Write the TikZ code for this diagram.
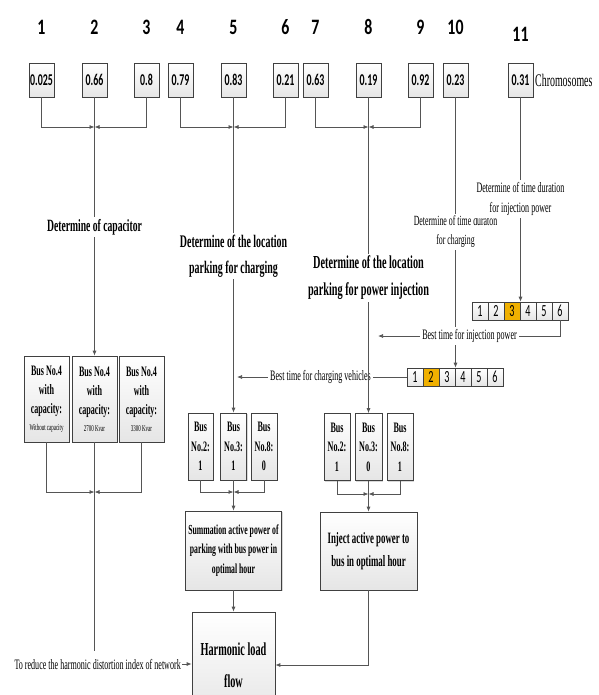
\documentclass[tikz,border=0pt]{standalone}
\usepackage{fontspec}
\usetikzlibrary{arrows.meta,shadows,calc}
\newfontfamily\tnr{Liberation Serif}[FakeStretch=0.56]
\newfontfamily\calb{Carlito}[FakeStretch=0.6]
\newfontfamily\calw{Carlito}[FakeStretch=0.72]
\definecolor{linec}{HTML}{555555}
\definecolor{boxc}{HTML}{404040}
\definecolor{goldc}{HTML}{F0B000}
\tikzset{
  conn/.style={draw=linec, line width=0.75pt},
  arr/.style={conn, -{Latex[length=5pt,width=4pt]}},
  shad/.style={drop shadow={shadow xshift=1.2pt, shadow yshift=-1.2pt, fill=black!30}},
  box/.style={draw=boxc, line width=0.7pt, top color=white, bottom color=black!10, shad, inner sep=0pt, align=center},
  valbox/.style={box, minimum width=25pt, minimum height=34pt, font=\calb\bfseries\fontsize{16.5}{19}\selectfont},
  idx/.style={inner sep=0pt, font=\calw\bfseries\fontsize{22}{26}\selectfont},
  cell/.style={box, line width=0.6pt, minimum width=16pt, minimum height=18pt, font=\calb\fontsize{17}{19}\selectfont},
  goldcell/.style={cell, top color=goldc, bottom color=goldc},
  busbox/.style={box, minimum height=67pt, font=\tnr\bfseries\fontsize{14.4}{19.5}\selectfont},
  capbox/.style={box, minimum width=45pt, minimum height=86pt, font=\tnr\bfseries\fontsize{14.4}{19}\selectfont},
  bigbox/.style={box, font=\tnr\bfseries\fontsize{13.8}{19.5}\selectfont},
  lab/.style={fill=white, inner sep=2pt, align=center, font=\tnr\bfseries\fontsize{17.7}{26}\selectfont},
  slab/.style={fill=white, inner sep=2pt, align=center, font=\tnr\fontsize{14.4}{20}\selectfont},
}
\begin{document}
\begin{tikzpicture}[x=1pt, y=-1pt]
\clip (0,0) rectangle (598,695);
% index numbers
\foreach \n/\x in {1/41.5,2/94.5,3/146.5,4/180.5,5/233.5,6/285.5,7/315.5,8/368.5,9/420.5,10/455.5}
  \node[idx] (n\n) at (\x,27) {\n};
\node[idx] (n11) at (520.5,34) {11};
% value boxes
\foreach \n/\x/\v in {1/41.5/0.025,2/94.5/0.66,3/146.5/0.8,4/180.5/0.79,5/233.5/0.83,6/285.5/0.21,7/315.5/0.63,8/368.5/0.19,9/420.5/0.92,10/455.5/0.23,11/520.5/0.31}
  \node[valbox] (v\n) at (\x,80) {\v};
\node[anchor=west, inner sep=0pt, font=\tnr\fontsize{17.7}{20}\selectfont] (chr) at (535,80) {Chromosomes};
% timeline cells
\foreach \k in {1,...,6}{
  \pgfmathsetmacro{\xa}{480+16*(\k-1)}
  \pgfmathsetmacro{\xb}{415+16*(\k-1)}
  \ifnum\k=3 \node[goldcell] (r1c\k) at (\xa,311) {\k}; \else \node[cell] (r1c\k) at (\xa,311) {\k}; \fi
  \ifnum\k=2 \node[goldcell] (r2c\k) at (\xb,377) {\k}; \else \node[cell] (r2c\k) at (\xb,377) {\k}; \fi
}
% capacitor boxes
\node[capbox] (cap1) at (46.5,399) {Bus No.4\\with\\capacity:\\[-2pt]{\mdseries\fontsize{8.9}{10}\selectfont Without capacity}};
\node[capbox] (cap2) at (94.5,399) {Bus No.4\\with\\capacity:\\[-2pt]{\mdseries\fontsize{8.9}{10}\selectfont 2700 Kvar}};
\node[capbox] (cap3) at (141.5,399) {Bus No.4\\with\\capacity:\\[-2pt]{\mdseries\fontsize{8.9}{10}\selectfont 3300 Kvar}};
% bus boxes group 2
\node[busbox, minimum width=25pt] (b21) at (200.5,446.5) {Bus\\No.2:\\1};
\node[busbox, minimum width=26pt] (b22) at (233.5,446.5) {Bus\\No.3:\\1};
\node[busbox, minimum width=26pt] (b23) at (264,446.5) {Bus\\No.8:\\0};
% bus boxes group 3
\node[busbox, minimum width=26pt] (b31) at (337,447) {Bus\\No.2:\\1};
\node[busbox, minimum width=27pt] (b32) at (368.5,447) {Bus\\No.3:\\0};
\node[busbox, minimum width=26pt] (b33) at (400,447) {Bus\\No.8:\\1};
% result boxes
\node[bigbox, minimum width=96pt, minimum height=79pt] (sum) at (233.5,550.5) {Summation active power of\\parking with bus power in\\optimal hour};
\node[bigbox, minimum width=97pt, minimum height=78pt, font=\tnr\bfseries\fontsize{15.8}{23}\selectfont] (inj) at (368.5,551) {Inject active power to\\bus in optimal hour};
\node[box, minimum width=83pt, minimum height=106pt, font=\tnr\bfseries\fontsize{18.3}{32}\selectfont] (hlf) at (233.5,665) {Harmonic load\\flow};
% charging time arrow (under vertical lines)
\coordinate (chend) at (237,377);
\draw[arr] (r2c1.west) -- (chend);
\node[slab] (bch) at (320.5,377) {Best time for charging vehicles};
% junctions
\coordinate (j1) at (94.5,127);
\coordinate (j2) at (233.5,127);
\coordinate (j3) at (368.5,127);
\coordinate (k1) at (94.5,492);
\coordinate (k2) at (233.5,492);
\coordinate (k3) at (368.5,494);
\coordinate (capend) at (94.5,651);
\coordinate (injend) at (378,336);
% top brackets
\draw[arr] (v1.south) |- (j1);
\draw[arr] (v3.south) |- (j1);
\draw[arr] (v2.south) -- (cap2.north);
\draw[arr] (v4.south) |- (j2);
\draw[arr] (v6.south) |- (j2);
\draw[arr] (v5.south) -- (b22.north);
\draw[arr] (v7.south) |- (j3);
\draw[arr] (v9.south) |- (j3);
\draw[arr] (v8.south) -- (b32.north);
\draw[arr] (v10.south) -- (v10.south |- r2c3.north);
\draw[arr] (v11.south) -- (v11.south |- r1c3.north);
\draw[arr] (r1c6.south) |- (injend);
% lower brackets
\draw[arr] (cap1.south) |- (k1);
\draw[arr] (cap3.south) |- (k1);
\draw[conn] (cap2.south) -- (capend);
\draw[arr] (b21.south) |- (k2);
\draw[arr] (b23.south) |- (k2);
\draw[arr] (b22.south) -- (sum.north);
\draw[arr] (b31.south) |- (k3);
\draw[arr] (b33.south) |- (k3);
\draw[arr] (b32.south) -- (inj.north);
% bottom
\draw[arr] (sum.south) -- (hlf.north);
\draw[arr] (inj.south) |- (hlf.east);
\node[anchor=east, inner sep=1pt, font=\tnr\fontsize{14.4}{16}\selectfont] (rd) at (182,664) {To reduce the harmonic distortion index of network};
\draw[arr] (rd.east) -- (rd.east -| hlf.west);
% labels over lines
\node[lab, font=\tnr\bfseries\fontsize{17.2}{18}\selectfont] (lc) at (94.5,227) {Determine of capacitor};
\node[lab] (lp) at (233.5,256) {Determine of the location\\parking for charging};
\node[lab, font=\tnr\bfseries\fontsize{18.3}{27}\selectfont] (li) at (368.5,278) {Determine of the location\\parking for power injection};
\node[slab, font=\tnr\fontsize{14}{19}\selectfont] (lt10) at (455.5,232) {Determine of time duraton\\for charging};
\node[slab] (lt11) at (520.5,199) {Determine of time duration\\for injection power};
\node[slab] (binj) at (469.5,336) {Best time for injection power};
\end{tikzpicture}
\end{document}
